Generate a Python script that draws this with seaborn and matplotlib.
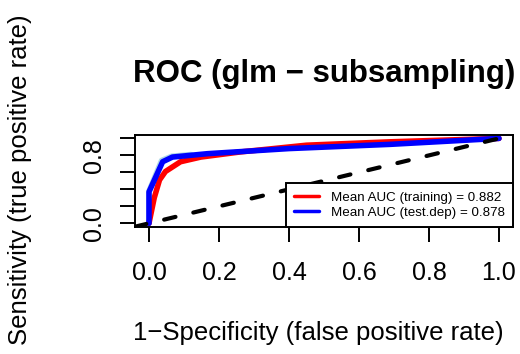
import numpy as np
import pandas as pd
import matplotlib
matplotlib.use("Agg")
import matplotlib.pyplot as plt
from matplotlib.lines import Line2D
import seaborn as sns

# --- data ---
fpr_train = [0.0, 0.015, 0.03, 0.047, 0.09, 0.148, 0.26, 0.45, 0.69, 1.0]
tpr_train = [0.0, 0.30, 0.51, 0.61, 0.725, 0.78, 0.84, 0.92, 0.96, 1.0]
fpr_test = [0.0, 0.0, 0.039, 0.067, 0.167, 0.40, 0.69, 1.0]
tpr_test = [0.0, 0.37, 0.725, 0.78, 0.82, 0.88, 0.93, 1.0]
fpr_run = [0.0, 0.0, 0.036, 0.065, 0.12]
tpr_run = [0.0, 0.38, 0.74, 0.79, 0.81]
legend_labels = ["Mean AUC (training) = 0.882", "Mean AUC (test.dep) = 0.878"]
xticks = [0.0, 0.2, 0.4, 0.6, 0.8, 1.0]
xtick_labels = ["0.0", "0.2", "0.4", "0.6", "0.8", "1.0"]
yticks = [0.0, 0.2, 0.4, 0.6, 0.8, 1.0]
ytick_labels = ["0.0", "", "", "", "0.8", ""]

sns.set_theme(style="white")
plt.rcParams["font.family"] = ["Liberation Sans", "DejaVu Sans"]
plt.rcParams["text.color"] = "black"

W, H = 520, 354
fig = plt.figure(figsize=(W / 100, H / 100), dpi=100)
ax = fig.add_axes([135 / W, 1 - 226.7 / H, 378 / W, 91.7 / H])

train = pd.DataFrame({"fpr": fpr_train, "tpr": tpr_train})
test = pd.DataFrame({"fpr": fpr_test, "tpr": tpr_test})
run = pd.DataFrame({"fpr": fpr_run, "tpr": tpr_run})

# faint single run under the mean curves
sns.lineplot(data=run, x="fpr", y="tpr", sort=False, estimator=None, color="#add8e6",
             lw=4, ax=ax, solid_capstyle="round")
sns.lineplot(data=train, x="fpr", y="tpr", sort=False, estimator=None, color="red",
             lw=4, ax=ax, solid_capstyle="round", solid_joinstyle="round")
sns.lineplot(data=test, x="fpr", y="tpr", sort=False, estimator=None, color="blue",
             lw=4, ax=ax, solid_capstyle="round", solid_joinstyle="round")
ax.axline((0, 0), (1, 1), color="black", lw=3, linestyle=(0, (2.8, 4.4)),
          dash_capstyle="round")

ax.set_xlim(-0.04, 1.04)
ax.set_ylim(-0.04, 1.04)
ax.set_xticks(xticks)
ax.set_xticklabels(xtick_labels)
ax.set_yticks(yticks)
ax.set_yticklabels(ytick_labels, rotation=90, va="center")
ax.set_xlabel("")
ax.set_ylabel("")
ax.tick_params(axis="both", which="major", direction="out", length=11, width=1.4,
               color="black", labelsize=18, labelcolor="black", bottom=True, left=True)
ax.tick_params(axis="x", pad=14)
ax.tick_params(axis="y", pad=10)
for s in ax.spines.values():
    s.set_color("black")
    s.set_linewidth(1.4)

handles = [Line2D([], [], color="red", lw=2.5), Line2D([], [], color="blue", lw=2.5)]
leg = ax.legend(handles, legend_labels, loc="lower right", fontsize=9.6, frameon=True,
                fancybox=False, borderaxespad=0, borderpad=0.6, handlelength=1.9,
                handletextpad=0.9, labelspacing=0.2)
leg.get_frame().set_edgecolor("black")
leg.get_frame().set_linewidth(1.4)
leg.get_frame().set_alpha(1)
for t in leg.get_texts():
    t.set_color("black")

fig.text(324 / W, 1 - 81.7 / H, "ROC (glm \u2212 subsampling)", ha="center", va="baseline",
         fontsize=22.5, fontweight="bold", color="black")
fig.text(318 / W, 1 - 340 / H, "1\u2212Specificity (false positive rate)", ha="center",
         va="baseline", fontsize=18.5, color="black")
fig.text(20 / W, 1 - 180 / H, "Sensitivity (true positive rate)", ha="center",
         va="center", rotation=90, fontsize=18.5, color="black")

fig.savefig("out.png", dpi=100)
